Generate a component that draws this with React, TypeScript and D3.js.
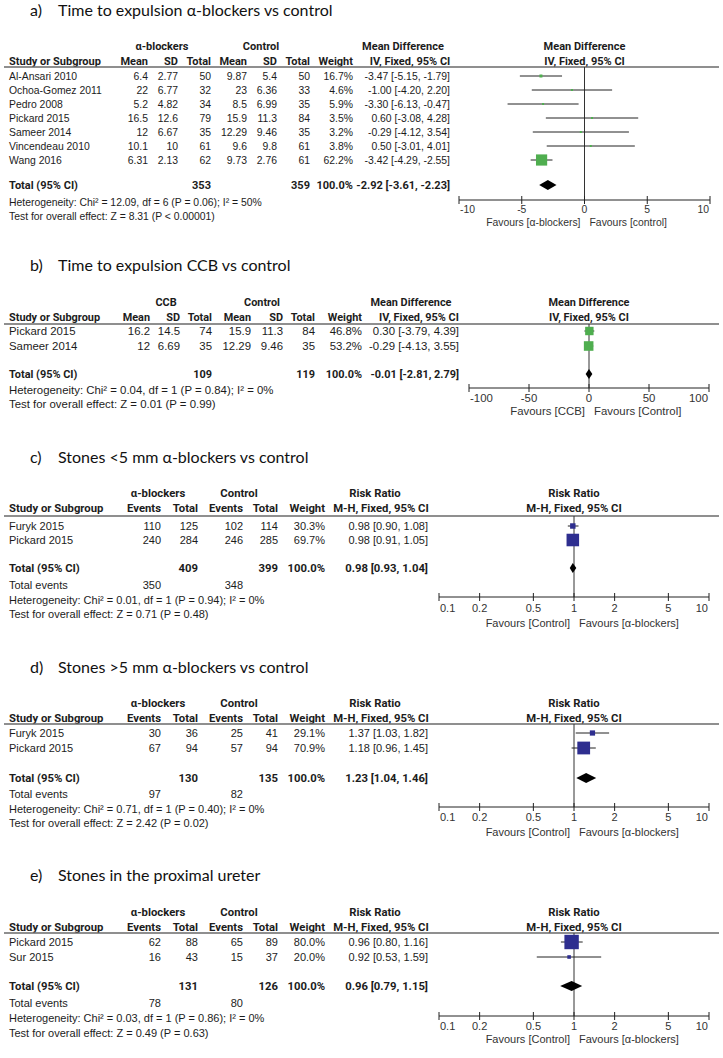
import React from "react";
import * as d3 from "d3";

// ---------- Panel a: Time to expulsion α-blockers vs control ----------
const studiesA = ["Al-Ansari 2010", "Ochoa-Gomez 2011", "Pedro 2008", "Pickard 2015", "Sameer 2014", "Vincendeau 2010", "Wang 2016"];
const expMeanA = [6.4, 22, 5.2, 16.5, 12, 10.1, 6.31];
const expSdA = [2.77, 6.77, 4.82, 12.6, 6.67, 10, 2.13];
const expTotalA = [50, 32, 34, 79, 35, 61, 62];
const ctlMeanA = [9.87, 23, 8.5, 15.9, 12.29, 9.6, 9.73];
const ctlSdA = [5.4, 6.36, 6.99, 11.3, 9.46, 9.8, 2.76];
const ctlTotalA = [50, 33, 35, 84, 35, 61, 61];
const weightA = [16.7, 4.6, 5.9, 3.5, 3.2, 3.8, 62.2];
const estA = [-3.47, -1.0, -3.3, 0.6, -0.29, 0.5, -3.42];
const loA = [-5.15, -4.2, -6.13, -3.08, -4.12, -3.01, -4.29];
const hiA = [-1.79, 2.2, -0.47, 4.28, 3.54, 4.01, -2.55];
const totalA = { exp: 353, ctl: 359, est: -2.92, lo: -3.61, hi: -2.23 };
const hetA = "Heterogeneity: Chi² = 12.09, df = 6 (P = 0.06); I² = 50%";
const testA = "Test for overall effect: Z = 8.31 (P < 0.00001)";
const ticksA = [-10, -5, 0, 5, 10];

// ---------- Panel b: Time to expulsion CCB vs control ----------
const studiesB = ["Pickard 2015", "Sameer 2014"];
const expMeanB = [16.2, 12];
const expSdB = [14.5, 6.69];
const expTotalB = [74, 35];
const ctlMeanB = [15.9, 12.29];
const ctlSdB = [11.3, 9.46];
const ctlTotalB = [84, 35];
const weightB = [46.8, 53.2];
const estB = [0.3, -0.29];
const loB = [-3.79, -4.13];
const hiB = [4.39, 3.55];
const totalB = { exp: 109, ctl: 119, est: -0.01, lo: -2.81, hi: 2.79 };
const hetB = "Heterogeneity: Chi² = 0.04, df = 1 (P = 0.84); I² = 0%";
const testB = "Test for overall effect: Z = 0.01 (P = 0.99)";
const ticksB = [-100, -50, 0, 50, 100];

// ---------- Panel c: Stones <5 mm ----------
const studiesC = ["Furyk 2015", "Pickard 2015"];
const expEventsC = [110, 240];
const expTotalC = [125, 284];
const ctlEventsC = [102, 246];
const ctlTotalC = [114, 285];
const weightC = [30.3, 69.7];
const estC = [0.98, 0.98];
const loC = [0.9, 0.91];
const hiC = [1.08, 1.05];
const totalC = { exp: 409, ctl: 399, expEv: 350, ctlEv: 348, est: 0.98, lo: 0.93, hi: 1.04 };
const hetC = "Heterogeneity: Chi² = 0.01, df = 1 (P = 0.94); I² = 0%";
const testC = "Test for overall effect: Z = 0.71 (P = 0.48)";

// ---------- Panel d: Stones >5 mm ----------
const studiesD = ["Furyk 2015", "Pickard 2015"];
const expEventsD = [30, 67];
const expTotalD = [36, 94];
const ctlEventsD = [25, 57];
const ctlTotalD = [41, 94];
const weightD = [29.1, 70.9];
const estD = [1.37, 1.18];
const loD = [1.03, 0.96];
const hiD = [1.82, 1.45];
const totalD = { exp: 130, ctl: 135, expEv: 97, ctlEv: 82, est: 1.23, lo: 1.04, hi: 1.46 };
const hetD = "Heterogeneity: Chi² = 0.71, df = 1 (P = 0.40); I² = 0%";
const testD = "Test for overall effect: Z = 2.42 (P = 0.02)";

// ---------- Panel e: Stones in the proximal ureter ----------
const studiesE = ["Pickard 2015", "Sur 2015"];
const expEventsE = [62, 16];
const expTotalE = [88, 43];
const ctlEventsE = [65, 15];
const ctlTotalE = [89, 37];
const weightE = [80.0, 20.0];
const estE = [0.96, 0.92];
const loE = [0.8, 0.53];
const hiE = [1.16, 1.59];
const totalE = { exp: 131, ctl: 126, expEv: 78, ctlEv: 80, est: 0.96, lo: 0.79, hi: 1.15 };
const hetE = "Heterogeneity: Chi² = 0.03, df = 1 (P = 0.86); I² = 0%";
const testE = "Test for overall effect: Z = 0.49 (P = 0.63)";

const ticksRR = [0.1, 0.2, 0.5, 1, 2, 5, 10];

const GREEN = "#4fae4f";
const BLUE = "#2e2e8f";
const TEXT = "#1c1c1c";
const TFONT = "'Liberation Sans', Arial, sans-serif";
const BFONT = "Roboto, 'Liberation Sans', Arial, sans-serif";
const HFONT = "Lato, Calibri, sans-serif";

const f2 = (v: number) => v.toFixed(2);
const ci = (e: number, l: number, h: number) => `${f2(e)} [${f2(l)}, ${f2(h)}]`;
const pct = (w: number) => `${w.toFixed(1)}%`;

type Row = { study: string; cells: string[]; weight: number; est: number; lo: number; hi: number };
type Panel = {
  letter: string;
  title: string;
  groups: string[];
  colHeads: string[];
  rows: Row[];
  totalCells: string[];
  eventsCells: string[] | null;
  total: { est: number; lo: number; hi: number };
  het: string;
  test: string;
  effHead: string[];
  log: boolean;
  domain: [number, number];
  ticks: number[];
  favours: [string, string];
  color: string;
  L: any;
};

const contRows = (st: string[], m1: number[], s1: number[], n1: number[], m2: number[], s2: number[], n2: number[], w: number[], e: number[], l: number[], h: number[]): Row[] =>
  st.map((s, i) => ({
    study: s,
    cells: [String(m1[i]), String(s1[i]), String(n1[i]), String(m2[i]), String(s2[i]), String(n2[i]), pct(w[i])],
    weight: w[i], est: e[i], lo: l[i], hi: h[i],
  }));

const dichRows = (st: string[], e1: number[], n1: number[], e2: number[], n2: number[], w: number[], e: number[], l: number[], h: number[]): Row[] =>
  st.map((s, i) => ({
    study: s,
    cells: [String(e1[i]), String(n1[i]), String(e2[i]), String(n2[i]), pct(w[i])],
    weight: w[i], est: e[i], lo: l[i], hi: h[i],
  }));

const panels: Panel[] = [
  {
    letter: "a)", title: "Time to expulsion α-blockers vs control",
    groups: ["α-blockers", "Control"],
    colHeads: ["Mean", "SD", "Total", "Mean", "SD", "Total", "Weight"],
    rows: contRows(studiesA, expMeanA, expSdA, expTotalA, ctlMeanA, ctlSdA, ctlTotalA, weightA, estA, loA, hiA),
    totalCells: ["", "", String(totalA.exp), "", "", String(totalA.ctl), "100.0%"],
    eventsCells: null,
    total: totalA, het: hetA, test: testA,
    effHead: ["Mean Difference", "IV, Fixed, 95% CI"],
    log: false, domain: [-10, 10], ticks: ticksA,
    favours: ["Favours [α-blockers]", "Favours [control]"],
    color: GREEN,
    L: {
      fs: 10.4, bfs: 11.0, titleY: 10.5, hdr1Y: 46, hdr2Y: 61, lineY: 67, row0Y: 76, rowStep: 14, totalY: 185, eventsY: 0,
      hetY: 202, testY: 216, axisY: 200, tickY: 209, favY: 222,
      colX: [148, 178, 211, 247, 277, 310, 353], groupX: [162, 261],
      effX: 450, effHeadX: [403, 410], plotX: [459, 710],
    },
  },
  {
    letter: "b)", title: "Time to expulsion CCB vs control",
    groups: ["CCB", "Control"],
    colHeads: ["Mean", "SD", "Total", "Mean", "SD", "Total", "Weight"],
    rows: contRows(studiesB, expMeanB, expSdB, expTotalB, ctlMeanB, ctlSdB, ctlTotalB, weightB, estB, loB, hiB),
    totalCells: ["", "", String(totalB.exp), "", "", String(totalB.ctl), "100.0%"],
    eventsCells: null,
    total: totalB, het: hetB, test: testB,
    effHead: ["Mean Difference", "IV, Fixed, 95% CI"],
    log: false, domain: [-100, 100], ticks: ticksB,
    favours: ["Favours [CCB]", "Favours [Control]"],
    color: GREEN,
    L: {
      fs: 11.4, bfs: 10.9, titleY: 265, hdr1Y: 302, hdr2Y: 317, lineY: 324, row0Y: 331, rowStep: 15, totalY: 374, eventsY: 0,
      hetY: 390, testY: 404, axisY: 388, tickY: 398, favY: 411,
      colX: [150, 180, 212, 251, 283, 315, 362], groupX: [166, 262],
      effX: 459, effHeadX: [411, 419], plotX: [469, 709],
    },
  },
  {
    letter: "c)", title: "Stones <5 mm α-blockers vs control",
    groups: ["α-blockers", "Control"],
    colHeads: ["Events", "Total", "Events", "Total", "Weight"],
    rows: dichRows(studiesC, expEventsC, expTotalC, ctlEventsC, ctlTotalC, weightC, estC, loC, hiC),
    totalCells: ["", String(totalC.exp), "", String(totalC.ctl), "100.0%"],
    eventsCells: [String(totalC.expEv), "", String(totalC.ctlEv), "", ""],
    total: totalC, het: hetC, test: testC,
    effHead: ["Risk Ratio", "M-H, Fixed, 95% CI"],
    log: true, domain: [0.1, 10], ticks: ticksRR,
    favours: ["Favours [Control]", "Favours [α-blockers]"],
    color: BLUE,
    L: {
      fs: 11, bfs: 11.3, titleY: 457, hdr1Y: 493, hdr2Y: 508, lineY: 516, row0Y: 526, rowStep: 14, totalY: 568, eventsY: 585,
      hetY: 600, testY: 614, axisY: 597, tickY: 608, favY: 623,
      colX: [161, 198, 243, 278, 325], groupX: [158, 239],
      effX: 428, effHeadX: [375, 381], plotX: [439, 709],
    },
  },
  {
    letter: "d)", title: "Stones >5 mm α-blockers vs control",
    groups: ["α-blockers", "Control"],
    colHeads: ["Events", "Total", "Events", "Total", "Weight"],
    rows: dichRows(studiesD, expEventsD, expTotalD, ctlEventsD, ctlTotalD, weightD, estD, loD, hiD),
    totalCells: ["", String(totalD.exp), "", String(totalD.ctl), "100.0%"],
    eventsCells: [String(totalD.expEv), "", String(totalD.ctlEv), "", ""],
    total: totalD, het: hetD, test: testD,
    effHead: ["Risk Ratio", "M-H, Fixed, 95% CI"],
    log: true, domain: [0.1, 10], ticks: ticksRR,
    favours: ["Favours [Control]", "Favours [α-blockers]"],
    color: BLUE,
    L: {
      fs: 11, bfs: 11.3, titleY: 667, hdr1Y: 703, hdr2Y: 718, lineY: 724, row0Y: 733, rowStep: 15, totalY: 778, eventsY: 794,
      hetY: 809, testY: 823, axisY: 807, tickY: 817, favY: 832,
      colX: [161, 198, 243, 278, 325], groupX: [158, 239],
      effX: 428, effHeadX: [375, 381], plotX: [439, 709],
    },
  },
  {
    letter: "e)", title: "Stones in the proximal ureter",
    groups: ["α-blockers", "Control"],
    colHeads: ["Events", "Total", "Events", "Total", "Weight"],
    rows: dichRows(studiesE, expEventsE, expTotalE, ctlEventsE, ctlTotalE, weightE, estE, loE, hiE),
    totalCells: ["", String(totalE.exp), "", String(totalE.ctl), "100.0%"],
    eventsCells: [String(totalE.expEv), "", String(totalE.ctlEv), "", ""],
    total: totalE, het: hetE, test: testE,
    effHead: ["Risk Ratio", "M-H, Fixed, 95% CI"],
    log: true, domain: [0.1, 10], ticks: ticksRR,
    favours: ["Favours [Control]", "Favours [α-blockers]"],
    color: BLUE,
    L: {
      fs: 11, bfs: 11.3, titleY: 875, hdr1Y: 912, hdr2Y: 927, lineY: 933, row0Y: 942, rowStep: 15, totalY: 986, eventsY: 1003,
      hetY: 1018, testY: 1033, axisY: 1016, tickY: 1026, favY: 1039,
      colX: [161, 198, 243, 278, 325], groupX: [158, 239],
      effX: 428, effHeadX: [375, 381], plotX: [439, 709],
    },
  },
];

const sizeScale = d3.scaleLinear().domain([0, 100]).range([0, 18]);

function T(props: any) {
  const { x, y, children, anchor = "start", bold = false, fs, bfs, fill = TEXT } = props;
  return (
    <text x={x} y={y} dy="0.35em" textAnchor={anchor} fontSize={bold ? bfs : fs} fontWeight={bold ? 700 : 400} fontFamily={bold ? BFONT : TFONT} fill={fill}>
      {children}
    </text>
  );
}

function ForestPanel({ p }: { p: Panel }) {
  const L = p.L;
  const fs = L.fs;
  const bfs = L.bfs;
  const x: any = p.log
    ? d3.scaleLog().domain(p.domain).range(L.plotX)
    : d3.scaleLinear().domain(p.domain).range(L.plotX);
  const ref = p.log ? 1 : 0;
  const rowY = (i: number) => L.row0Y + i * L.rowStep;
  const tickFmt = (t: number) => String(t);
  const nT = p.ticks.length;
  const dh = 5;
  const diamond = (e: number, l: number, h: number, y: number) =>
    `M${x(l)},${y}L${x(e)},${y - dh}L${x(h)},${y}L${x(e)},${y + dh}Z`;
  return (
    <g>
      <text x={30} y={L.titleY} dy="0.35em" fontSize={16} fontFamily={HFONT} fill="#111">{p.letter}</text>
      <text x={58} y={L.titleY} dy="0.35em" fontSize={16} fontFamily={HFONT} fill="#111">{p.title}</text>

      {/* group headers */}
      <T x={L.groupX[0]} y={L.hdr1Y} anchor="middle" bold fs={fs} bfs={bfs}>{p.groups[0]}</T>
      <T x={L.groupX[1]} y={L.hdr1Y} anchor="middle" bold fs={fs} bfs={bfs}>{p.groups[1]}</T>
      <T x={9} y={L.hdr2Y} bold fs={fs} bfs={bfs}>Study or Subgroup</T>
      {p.colHeads.map((h, i) => (
        <T key={i} x={L.colX[i]} y={L.hdr2Y} anchor="end" bold fs={fs} bfs={bfs}>{h}</T>
      ))}
      <T x={L.effHeadX[0]} y={L.hdr1Y} anchor="middle" bold fs={fs} bfs={bfs}>{p.effHead[0]}</T>
      <T x={L.effHeadX[1]} y={L.hdr2Y} anchor="middle" bold fs={fs} bfs={bfs}>{p.effHead[1]}</T>
      <T x={x(ref)} y={L.hdr1Y} anchor="middle" bold fs={fs} bfs={bfs}>{p.effHead[0]}</T>
      <T x={x(ref)} y={L.hdr2Y} anchor="middle" bold fs={fs} bfs={bfs}>{p.effHead[1]}</T>

      <line x1={4} x2={719} y1={L.lineY} y2={L.lineY} stroke="#6a6a6a" strokeWidth={1.5} />

      {/* study rows */}
      {p.rows.map((r, i) => (
        <g key={r.study}>
          <T x={9} y={rowY(i)} fs={fs}>{r.study}</T>
          {r.cells.map((c, j) => (
            <T key={j} x={L.colX[j]} y={rowY(i)} anchor="end" fs={fs}>{c}</T>
          ))}
          <T x={L.effX} y={rowY(i)} anchor="end" fs={fs}>{ci(r.est, r.lo, r.hi)}</T>
        </g>
      ))}

      {/* totals */}
      <T x={9} y={L.totalY} bold fs={fs} bfs={bfs}>Total (95% CI)</T>
      {p.totalCells.map((c, j) => (
        <T key={j} x={L.colX[j]} y={L.totalY} anchor="end" bold fs={fs} bfs={bfs}>{c}</T>
      ))}
      <T x={L.effX} y={L.totalY} anchor="end" bold fs={fs} bfs={bfs}>{ci(p.total.est, p.total.lo, p.total.hi)}</T>
      {p.eventsCells && (
        <g>
          <T x={9} y={L.eventsY} fs={fs}>Total events</T>
          {p.eventsCells.map((c, j) => (
            <T key={j} x={L.colX[j]} y={L.eventsY} anchor="end" fs={fs}>{c}</T>
          ))}
        </g>
      )}
      <T x={9} y={L.hetY} fs={fs}>{p.het}</T>
      <T x={9} y={L.testY} fs={fs}>{p.test}</T>

      {/* plot */}
      <line x1={x(ref)} x2={x(ref)} y1={L.lineY} y2={L.axisY} stroke="#333" strokeWidth={1} />
      {p.rows.map((r, i) => {
        const s = Math.max(2, sizeScale(r.weight));
        const y = rowY(i);
        const lo = Math.max(r.lo, p.domain[0]);
        const hi = Math.min(r.hi, p.domain[1]);
        return (
          <g key={"m" + i}>
            <line x1={x(lo)} x2={x(hi)} y1={y} y2={y} stroke="#222" strokeWidth={1} />
            <rect x={x(r.est) - s / 2} y={y - s / 2} width={s} height={s} fill={p.color} />
          </g>
        );
      })}
      <path d={diamond(p.total.est, p.total.lo, p.total.hi, L.totalY)} fill="#000" />

      {/* axis */}
      <line x1={L.plotX[0]} x2={L.plotX[1]} y1={L.axisY} y2={L.axisY} stroke="#222" strokeWidth={1} />
      {p.ticks.map((t, i) => (
        <g key={"t" + i}>
          <line x1={x(t)} x2={x(t)} y1={L.axisY - 4} y2={L.axisY + 4} stroke="#222" strokeWidth={1} />
          <T x={i === 0 ? x(t) + 1 : i === nT - 1 ? x(t) - 1 : x(t)} y={L.tickY} anchor={i === 0 ? "start" : i === nT - 1 ? "end" : "middle"} fs={fs} fill="#333">
            {tickFmt(t)}
          </T>
        </g>
      ))}
      <T x={x(ref) - 4} y={L.favY} anchor="end" fs={fs} fill="#333">{p.favours[0]}</T>
      <T x={x(ref) + 5} y={L.favY} anchor="start" fs={fs} fill="#333">{p.favours[1]}</T>
    </g>
  );
}

export default function App() {
  return (
    <svg width={723} height={1058} style={{ position: "absolute", left: 0, top: 0, background: "#fff" }}>
      <rect width={723} height={1058} fill="#fff" />
      {panels.map((p) => (
        <ForestPanel key={p.letter} p={p} />
      ))}
    </svg>
  );
}
